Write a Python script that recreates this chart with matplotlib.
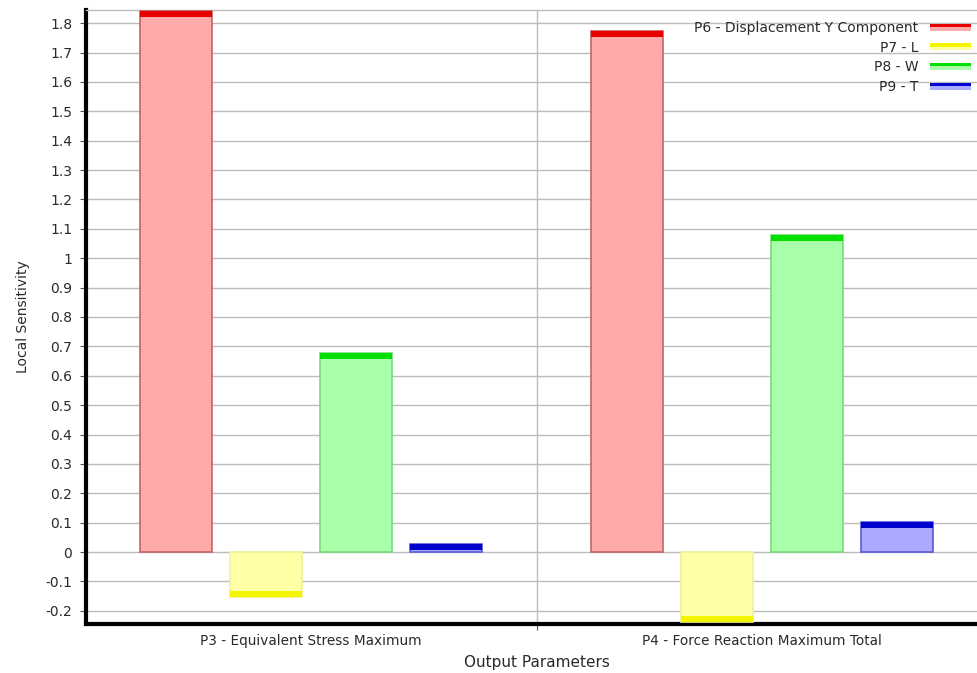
import matplotlib
matplotlib.use("Agg")
import matplotlib.pyplot as plt
import numpy as np
from matplotlib.legend_handler import HandlerBase
from matplotlib.patches import Rectangle
from matplotlib.ticker import FuncFormatter, MultipleLocator

categories = ["P3 - Equivalent Stress Maximum", "P4 - Force Reaction Maximum Total"]
series_names = ["P6 - Displacement Y Component", "P7 - L", "P8 - W", "P9 - T"]
p6_values = [1.84, 1.772]
p7_values = [-0.152, -0.237]
p8_values = [0.678, 1.078]
p9_values = [0.027, 0.103]
series_values = [p6_values, p7_values, p8_values, p9_values]

dark_colors = ["#e60000", "#f5f500", "#00e000", "#0000cc"]
light_colors = ["#ffaaaa", "#ffffa6", "#aaffaa", "#aaaaff"]
edge_colors = ["#c86464", "#f0f09a", "#78dc78", "#5a5ad8"]

fig = plt.figure(figsize=(9.77, 6.73), dpi=100)
ax = fig.add_axes([86 / 977, (673 - 624) / 673, 901 / 977, 614 / 673])

n = len(series_names)
bar_w = 0.16
step = 0.2
cat_x = np.arange(len(categories)) + 0.5
strip = 0.02
for i, (vals, dc, lc, ec) in enumerate(zip(series_values, dark_colors, light_colors, edge_colors)):
    xs = cat_x + (i - (n - 1) / 2) * step
    vals = np.array(vals)
    ax.bar(xs, vals, width=bar_w, color=lc, edgecolor=ec, linewidth=1.2, zorder=3)
    s = np.sign(vals) * np.minimum(strip, np.abs(vals))
    ax.bar(xs, s, bottom=vals - s, width=bar_w, color=dc, edgecolor="none", linewidth=0, zorder=4)


def fmt(v, p):
    if abs(v) < 1e-9:
        return "0"
    return ("%.1f" % v).rstrip("0").rstrip(".")


ax.set_xlim(0, 2)
ax.set_ylim(-0.245, 1.845)
ax.yaxis.set_major_locator(MultipleLocator(0.1))
ax.yaxis.set_major_formatter(FuncFormatter(fmt))
ax.set_xticks([1.0])
ax.set_xticklabels([""])
ax.set_xticks(cat_x, minor=True)
ax.set_xticklabels(categories, minor=True)
ax.tick_params(axis="x", which="minor", length=0, pad=7, labelsize=9.8, colors="#2a2a2a")
ax.tick_params(axis="x", which="major", length=4, direction="out", color="#555555")
ax.tick_params(axis="y", length=4, direction="out", color="#555555", labelsize=10, labelcolor="#2a2a2a", pad=6)

ax.grid(axis="y", color="#bcbcbc", linewidth=1, zorder=0)
ax.grid(axis="x", which="major", color="#bcbcbc", linewidth=1, zorder=0)
ax.set_axisbelow(True)

for side in ["left", "bottom"]:
    ax.spines[side].set_linewidth(3)
    ax.spines[side].set_color("black")
ax.spines["top"].set_color("#bcbcbc")
ax.spines["top"].set_linewidth(1)
ax.spines["right"].set_visible(False)

ax.set_ylabel("Local Sensitivity", fontsize=10, color="#2a2a2a", labelpad=11)
ax.set_xlabel("Output Parameters", fontsize=11, color="#2a2a2a", labelpad=5)


class TwoToneHandler(HandlerBase):
    def __init__(self, dark, light):
        super().__init__()
        self.dark = dark
        self.light = light

    def create_artists(self, legend, orig_handle, xdescent, ydescent, width, height, fontsize, trans):
        h = height * 0.36
        y0 = height / 2 - h
        r1 = Rectangle((-xdescent, y0), width, h, facecolor=self.light, edgecolor="none", transform=trans)
        r2 = Rectangle((-xdescent, y0 + h), width, h, facecolor=self.dark, edgecolor="none", transform=trans)
        return [r1, r2]


handles = [Rectangle((0, 0), 1, 1) for _ in series_names]
handler_map = {h: TwoToneHandler(d, l) for h, d, l in zip(handles, dark_colors, light_colors)}
fig.legend(handles, series_names, handler_map=handler_map, loc="upper right",
           bbox_to_anchor=(1.007, 0.987), frameon=False, markerfirst=False,
           fontsize=10, handlelength=3.0, handletextpad=0.8, labelspacing=0.4,
           labelcolor="#2a2a2a")

fig.savefig("out.png", dpi=100)
